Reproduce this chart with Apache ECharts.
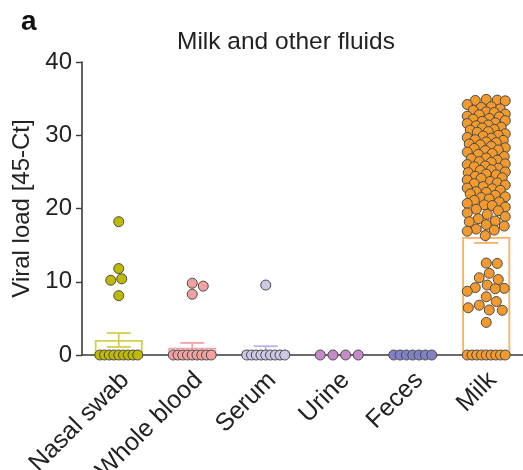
<!DOCTYPE html>
<html><head><meta charset="utf-8">
<script src="https://cdn.jsdelivr.net/npm/echarts@6/dist/echarts.min.js"></script>
<style>html,body{margin:0;padding:0;background:#fff}#c{width:523px;height:470px}</style>
</head><body><div id="c"></div>
<script>
// ---- data ----
const categories = ['Nasal swab', 'Whole blood', 'Serum', 'Urine', 'Feces', 'Milk'];
const yTicks = [0, 10, 20, 30, 40];
const barMeans = [2.05, 1.0, 0.6, 0, 0, 16.1];
const barSEM = [0.95, 0.65, 0.6, 0, 0, 0.8];

const nasalSwab = [18.2, 11.8, 10.4, 10.2, 8.1, 0, 0, 0, 0, 0, 0, 0, 0, 0];
const wholeBlood = [9.8, 9.4, 8.3, 0, 0, 0, 0, 0, 0, 0, 0, 0];
const serum = [9.55, 0, 0, 0, 0, 0, 0, 0, 0, 0];
const urine = [0, 0, 0, 0];
const feces = [0, 0, 0, 0, 0, 0, 0];
const milk = [
  34.9, 34.8, 34.75, 34.7,
  34.2, 33.9, 33.8, 33.6, 33.4, 33.2, 33.1,
  32.9, 32.8, 32.6, 32.5, 32.3, 32.2, 32.0,
  31.9, 31.7, 31.6, 31.4, 31.3, 31.1, 31.0,
  30.8, 30.7, 30.5, 30.4, 30.2, 30.0,
  29.9, 29.7, 29.6, 29.4, 29.3, 29.1, 29.0,
  28.8, 28.7, 28.5, 28.3, 28.2, 28.0,
  27.9, 27.7, 27.5, 27.4, 27.1,
  26.9, 26.8, 26.6, 26.4, 26.3, 26.1, 26.0,
  25.8, 25.7, 25.5, 25.3, 25.2, 25.0,
  24.9, 24.7, 24.6, 24.4, 24.2, 24.1,
  23.9, 23.7, 23.5, 23.4, 23.2, 23.0,
  22.8, 22.7, 22.5, 22.3, 22.2, 22.0,
  21.8, 21.6, 21.5, 21.3, 21.1,
  20.9, 20.7, 20.5, 20.4, 20.2,
  19.9, 19.7, 19.4, 19.2,
  18.9, 18.6, 18.3, 18.2,
  17.8, 17.6, 17.2, 17.05, 16.9,
  16.3,
  12.55, 12.5, 11.15, 10.55, 10.3, 9.55, 9.2, 9.1, 9.05, 8.7, 7.95, 7.3, 6.8, 6.45, 6.15, 6.1, 4.45,
  0, 0, 0, 0, 0, 0, 0, 0, 0
];
const groups = [nasalSwab, wholeBlood, serum, urine, feces, milk];

// ---- styles ----
const dotColors = ['#bfb900', '#f2a0a0', '#cdc8e6', '#c58bc9', '#8080c6', '#f29a2e'];
const barColors = ['#d3cf4c', '#f5a3a8', '#b8b2ea', '#c58bc9', '#8080c6', '#f8b062'];
const AXIS = '#3a3a3a';
const TEXT = '#222';
const SANS = "'Liberation Sans', Arial, sans-serif";

const chart = echarts.init(document.getElementById('c'), null, {renderer: 'canvas'});

const baseOption = {
  animation: false,
  backgroundColor: '#fff',
  title: {
    text: 'Milk and other fluids', left: 172, top: 25,
    textStyle: {fontSize: 24.5, fontWeight: 'normal', color: TEXT, fontFamily: SANS}
  },
  graphic: [{
    type: 'text', left: 21, top: 8,
    style: {text: 'a', font: "bold 28px 'Liberation Sans', Arial, sans-serif", fill: '#111'}
  }],
  grid: {left: 82, right: 0, top: 62, bottom: 115, containLabel: false, outerBoundsMode: 'none'},
  xAxis: {
    type: 'category', data: categories, boundaryGap: true,
    axisLine: {lineStyle: {color: AXIS, width: 1.6}},
    axisTick: {alignWithLabel: true, length: 6, lineStyle: {color: AXIS, width: 1.4}},
    axisLabel: {
      rotate: 45, interval: 0, margin: 15, align: 'right', verticalAlign: 'top',
      lineHeight: 18,
      fontSize: 25, color: TEXT, fontFamily: SANS
    },
    splitLine: {show: false}
  },
  yAxis: {
    type: 'value', min: yTicks[0], max: yTicks[yTicks.length - 1], interval: yTicks[1] - yTicks[0],
    name: 'Viral load [45-Ct]', nameLocation: 'middle', nameGap: 48, nameRotate: 90,
    nameTextStyle: {fontSize: 24, color: TEXT, fontFamily: SANS},
    axisLine: {show: true, lineStyle: {color: AXIS, width: 1.6}},
    axisTick: {show: true, length: 6, lineStyle: {color: AXIS, width: 1.4}},
    axisLabel: {margin: 10, fontSize: 24, color: TEXT, fontFamily: SANS},
    splitLine: {show: false}
  },
  series: [
    {
      type: 'bar', name: 'mean', barWidth: 48, z: 2,
      data: barMeans.map((m, i) => ({
        value: m,
        itemStyle: {color: 'rgba(0,0,0,0)', borderColor: barColors[i], borderWidth: m > 0 ? 1.8 : 0}
      }))
    },
    {
      type: 'custom', name: 'sem', z: 3, clip: false,
      encode: {x: 0, y: 1},
      data: barMeans.map((m, i) => [i, m, barSEM[i]]).filter(d => d[2] > 0),
      renderItem: (params, api) => {
        const i = api.value(0), m = api.value(1), s = api.value(2);
        const hi = api.coord([i, m + s]);
        const lo = api.coord([i, m - s]);
        const half = 12;
        const st = {stroke: barColors[i], lineWidth: 1.8};
        return {type: 'group', children: [
          {type: 'line', shape: {x1: hi[0], y1: hi[1], x2: lo[0], y2: lo[1]}, style: st},
          {type: 'line', shape: {x1: hi[0] - half, y1: hi[1], x2: hi[0] + half, y2: hi[1]}, style: st},
          {type: 'line', shape: {x1: lo[0] - half, y1: lo[1], x2: lo[0] + half, y2: lo[1]}, style: st}
        ]};
      }
    }
  ]
};
chart.setOption(baseOption);

// ---- beeswarm layout computed from the values through the y scale ----
const pxPerUnit = chart.convertToPixel({yAxisIndex: 0}, 0) - chart.convertToPixel({yAxisIndex: 0}, 1);
const W = 19, D = 10.5;
const points = [];
groups.forEach((vals, ci) => {
  const placed = [];
  const counts = {};
  vals.forEach(v => { counts[v] = (counts[v] || 0) + 1; });
  Object.keys(counts).forEach(k => {
    const n = counts[k];
    if (n > 1) {
      for (let j = 0; j < n; j++) {
        placed.push({v: +k, off: -W + 2 * W * j / (n - 1)});
      }
    }
  });
  const singles = vals.filter(v => counts[v] === 1).sort((a, b) => b - a);
  const cands = [0];
  for (let k = 1; k <= W; k++) { cands.push(k, -k); }
  singles.forEach(v => {
    let best = null, bestScore = -1;
    for (const off of cands) {
      let minD = Infinity;
      for (const p of placed) {
        const dx = off - p.off, dy = (v - p.v) * pxPerUnit;
        const d = Math.sqrt(dx * dx + dy * dy);
        if (d < minD) minD = d;
      }
      if (minD >= D) { best = off; bestScore = Infinity; break; }
      if (minD > bestScore) { bestScore = minD; best = off; }
    }
    placed.push({v, off: best});
  });
  placed.forEach(p => points.push([ci, p.v, p.off]));
});

chart.setOption({
  series: [
    baseOption.series[0], baseOption.series[1],
    {
      type: 'custom', name: 'points', z: 5, clip: false,
      encode: {x: 0, y: 1},
      data: points,
      renderItem: (params, api) => {
        const ci = api.value(0);
        const p = api.coord([ci, api.value(1)]);
        return {type: 'circle', shape: {cx: p[0] + api.value(2), cy: p[1], r: 5},
          style: {fill: dotColors[ci], stroke: '#4a4a4a', lineWidth: 1}};
      }
    }
  ]
});
</script>
</body></html>
